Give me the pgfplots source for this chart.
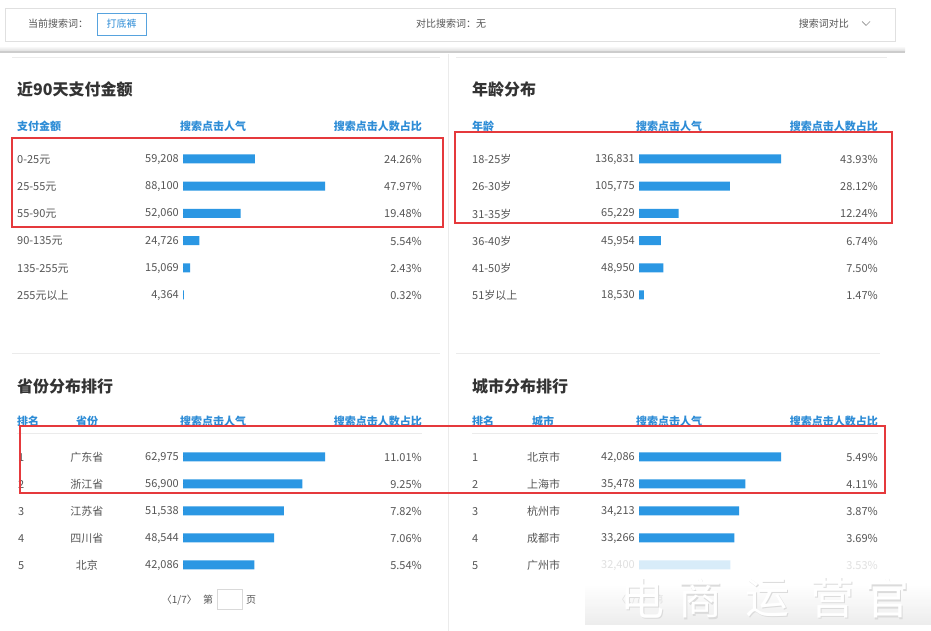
\documentclass[border=0pt]{standalone}
\usepackage{fontspec}
\setmainfont{Noto Sans CJK SC}
\usepackage{pgfplots}
\usepackage{pgfplotstable}
\pgfplotsset{compat=1.18}

\definecolor{barblue}{HTML}{2B97E3}
\definecolor{hdrblue}{HTML}{2D8CD6}
\definecolor{txtgray}{HTML}{555555}
\definecolor{ttl}{HTML}{333333}
\definecolor{redbox}{HTML}{E5393C}
\definecolor{linegray}{HTML}{EBEBEB}

\newcommand\rowfont{\fontsize{11}{12}\selectfont}
\newcommand\hdrfont{\fontsize{11}{13}\selectfont\bfseries}
\newcommand\titlefont{\fontsize{16}{18}\selectfont\bfseries}
\newcommand\topfont{\fontsize{10}{12}\selectfont}

\pgfplotstableread{
idx label val pct
0 0-25元 59208 24.26
1 25-55元 88100 47.97
2 55-90元 52060 19.48
3 90-135元 24726 5.54
4 135-255元 15069 2.43
5 255元以上 4364 0.32
}\tpay

\pgfplotstableread{
idx label val pct
0 18-25岁 136831 43.93
1 26-30岁 105775 28.12
2 31-35岁 65229 12.24
3 36-40岁 45954 6.74
4 41-50岁 48950 7.50
5 51岁以上 18530 1.47
}\tage

\pgfplotstableread{
idx rank label val pct
0 1 广东省 62975 11.01
1 2 浙江省 56900 9.25
2 3 江苏省 51538 7.82
3 4 四川省 48544 7.06
4 5 北京 42086 5.54
}\tprov

\pgfplotstableread{
idx rank label val pct
0 1 北京市 42086 5.49
1 2 上海市 35478 4.11
2 3 杭州市 34213 3.87
3 4 成都市 33266 3.69
4 5 广州市 32400 3.53
}\tcity

\pgfplotsset{
  panel/.style={scale only axis, width=142pt, axis lines=none, ticks=none,
    xmin=0, y dir=reverse, enlargelimits=false, clip=false},
  ghost/.style={only marks, mark=*, mark size=0pt,
    mark options={draw=none, fill=none}, nodes near coords},
  rowtxt/.style={every node near coord/.append style={font=\rowfont, text=txtgray, inner sep=0pt, yshift=-0.5pt, #1}},
  bars/.style={xbar, bar width=9pt, fill=barblue, draw=none},
  valnum/.style={point meta=explicit,
    nodes near coords={\pgfmathprintnumber[fixed,precision=0,1000 sep={,},assume math mode=true]{\pgfplotspointmeta}}},
  pctnum/.style={point meta=explicit,
    nodes near coords={\pgfmathprintnumber[fixed,fixed zerofill,precision=2,assume math mode=true]{\pgfplotspointmeta}\%}},
}

\begin{document}
\begin{tikzpicture}[x=1pt,y=1pt]
\path[use as bounding box, fill=white] (0,0) rectangle (931,631);
\begin{scope}
\clip (0,0) rectangle (931,631);

% ---------- top search bar ----------
\draw[black!12, fill=white] (5.5,631-8.5) rectangle (895.5,631-41.5);
\node[anchor=west, font=\topfont, text=txtgray, inner sep=0pt] at (28,631-24) {当前搜索词：};
\draw[hdrblue!80, line width=0.8pt, fill=white] (97.5,631-13) rectangle (146,631-35);
\node[font=\topfont, text=hdrblue, inner sep=0pt] at (121.5,631-24) {打底裤};
\node[font=\topfont, text=txtgray, inner sep=0pt] at (451,631-24) {对比搜索词：无};
\node[anchor=east, font=\topfont, text=txtgray, inner sep=0pt] at (849,631-24) {搜索词对比};
\draw[black!45, line width=0.7pt] (862,631-21.5) -- (866,631-25.5) -- (870,631-21.5);

% shadow band
\shade[top color=white, bottom color=black!14] (0,631-46) rectangle (905,631-51.5);
\fill[black!20] (0,631-51.5) rectangle (905,631-53);

% dividers
\draw[linegray] (448,631-54) -- (448,0);
\draw[linegray] (12,631-57.5) -- (440,631-57.5);
\draw[linegray] (456,631-57.5) -- (887,631-57.5);
\draw[linegray] (12,631-353.5) -- (440,631-353.5);
\draw[linegray] (456,631-353.5) -- (880,631-353.5);

% ---------- titles ----------
\node[anchor=west, font=\titlefont, text=ttl, inner sep=0pt] at (17,631-89) {近90天支付金额};
\node[anchor=west, font=\titlefont, text=ttl, inner sep=0pt] at (472,631-89) {年龄分布};
\node[anchor=west, font=\titlefont, text=ttl, inner sep=0pt] at (17,631-386) {省份分布排行};
\node[anchor=west, font=\titlefont, text=ttl, inner sep=0pt] at (472,631-386) {城市分布排行};

% ---------- headers ----------
\begin{scope}[every node/.style={font=\hdrfont, text=hdrblue, inner sep=0pt}]
\node[anchor=west] at (17,631-126) {支付金额};
\node at (213,631-126) {搜索点击人气};
\node[anchor=east] at (422,631-126) {搜索点击人数占比};
\node[anchor=west] at (472,631-126) {年龄};
\node at (669,631-126) {搜索点击人气};
\node[anchor=east] at (878,631-126) {搜索点击人数占比};
\node[anchor=west] at (17,631-421) {排名};
\node at (87,631-421) {省份};
\node at (213,631-421) {搜索点击人气};
\node[anchor=east] at (422,631-421) {搜索点击人数占比};
\node[anchor=west] at (472,631-421) {排名};
\node at (543,631-421) {城市};
\node at (669,631-421) {搜索点击人气};
\node[anchor=east] at (878,631-421) {搜索点击人数占比};
\end{scope}
\draw[linegray, line width=0.8pt] (17,631-433) -- (422,631-433);
\draw[linegray, line width=0.8pt] (472,631-433) -- (878,631-433);

% ---------- panel 1: payment ----------
\begin{axis}[panel, height=163.2pt, xmax=47.97, ymin=-0.5, ymax=5.5,
  anchor=north west, at={(183pt,485.6pt)}]
\addplot[bars] table[x=pct, y=idx] {\tpay};
\addplot[ghost, point meta=explicit symbolic, rowtxt={anchor=west, xshift=-166pt}]
  table[x expr=0, y=idx, meta=label] {\tpay};
\addplot[ghost, valnum, rowtxt={anchor=east, xshift=-4pt}]
  table[x expr=0, y=idx, meta=val] {\tpay};
\addplot[ghost, pctnum, rowtxt={anchor=east, xshift=239pt}]
  table[x expr=0, y=idx, meta=pct] {\tpay};
\end{axis}

% ---------- panel 2: age ----------
\begin{axis}[panel, height=163.2pt, xmax=43.93, ymin=-0.5, ymax=5.5,
  anchor=north west, at={(639pt,485.6pt)}]
\addplot[bars] table[x=pct, y=idx] {\tage};
\addplot[ghost, point meta=explicit symbolic, rowtxt={anchor=west, xshift=-167pt}]
  table[x expr=0, y=idx, meta=label] {\tage};
\addplot[ghost, valnum, rowtxt={anchor=east, xshift=-4pt}]
  table[x expr=0, y=idx, meta=val] {\tage};
\addplot[ghost, pctnum, rowtxt={anchor=east, xshift=239pt}]
  table[x expr=0, y=idx, meta=pct] {\tage};
\end{axis}

% ---------- panel 3: province ----------
\begin{axis}[panel, height=135pt, xmax=11.01, ymin=-0.5, ymax=4.5,
  anchor=north west, at={(183pt,187.5pt)}]
\addplot[bars] table[x=pct, y=idx] {\tprov};
\addplot[ghost, point meta=explicit symbolic, rowtxt={anchor=west, xshift=-165pt}]
  table[x expr=0, y=idx, meta=rank] {\tprov};
\addplot[ghost, point meta=explicit symbolic, rowtxt={anchor=center, xshift=-96pt}]
  table[x expr=0, y=idx, meta=label] {\tprov};
\addplot[ghost, valnum, rowtxt={anchor=east, xshift=-4pt}]
  table[x expr=0, y=idx, meta=val] {\tprov};
\addplot[ghost, pctnum, rowtxt={anchor=east, xshift=239pt}]
  table[x expr=0, y=idx, meta=pct] {\tprov};
\end{axis}

% ---------- panel 4: city ----------
\begin{axis}[panel, height=135pt, xmax=5.49, ymin=-0.5, ymax=4.5,
  anchor=north west, at={(639pt,187.5pt)}]
\addplot[bars] table[x=pct, y=idx] {\tcity};
\addplot[ghost, point meta=explicit symbolic, rowtxt={anchor=west, xshift=-167pt}]
  table[x expr=0, y=idx, meta=rank] {\tcity};
\addplot[ghost, point meta=explicit symbolic, rowtxt={anchor=west, xshift=-112pt}]
  table[x expr=0, y=idx, meta=label] {\tcity};
\addplot[ghost, valnum, rowtxt={anchor=east, xshift=-4pt}]
  table[x expr=0, y=idx, meta=val] {\tcity};
\addplot[ghost, pctnum, rowtxt={anchor=east, xshift=239pt}]
  table[x expr=0, y=idx, meta=pct] {\tcity};
\end{axis}

% ---------- pagination ----------
\node[anchor=east, font=\topfont, text=txtgray, inner sep=0pt] at (197,631-600) {〈1/7〉};
\node[font=\topfont, text=txtgray, inner sep=0pt] at (208,631-600) {第};
\draw[black!15, fill=white] (217.5,631-589) rectangle (242,631-609);
\node[font=\topfont, text=txtgray, inner sep=0pt] at (251,631-600) {页};

% ---------- red highlight boxes ----------
\draw[redbox, line width=2.4pt] (12,631-138) rectangle (443,631-227);
\draw[redbox, line width=2.4pt] (455,631-132) rectangle (892,631-223);
\draw[redbox, line width=2.4pt] (20,631-426) rectangle (885,631-493);

% ---------- watermark ----------
\fill[white, opacity=0.82] (585,631-556) rectangle (931,631-631);
\shade[top color=white, bottom color=black!9, opacity=0.8] (585,631-585) rectangle (931,631-625);
\node[font=\topfont, text=black!12, inner sep=0pt] at (640,631-600) {〈1/7〉 第};
\begin{scope}[every node/.style={font=\fontsize{44}{44}\selectfont, inner sep=0pt}]
\foreach \c/\xx in {电/642, 商/700, 运/767, 营/832, 官/887}{
  \node[text=black!14] at (\xx+1.2,631-598-1.2) {\c};
  \node[text=white] at (\xx,631-598) {\c};
}
\end{scope}
\end{scope}
\end{tikzpicture}
\end{document}
